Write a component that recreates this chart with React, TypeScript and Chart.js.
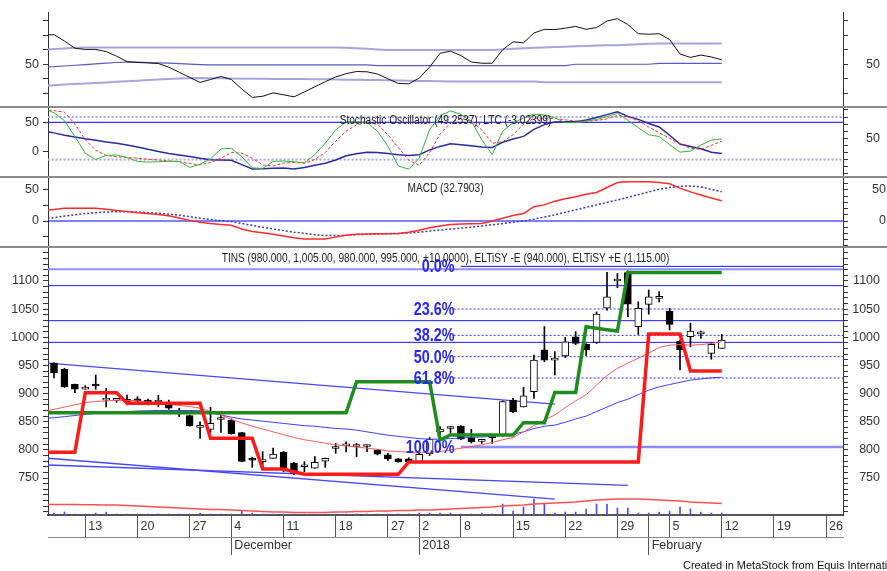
import React, { useEffect, useRef } from "react";
import { Chart, registerables } from "chart.js";

Chart.register(...registerables);

const FONT = "'Liberation Sans Narrow', 'Arial Narrow', 'Liberation Sans', Arial, sans-serif";

// ---------- time axis (bar 0 = first visible trading day, 8 Nov 2017) ----------
const X_MIN = -0.575;
const X_MAX = 75.62;
const LEAD = -1; // indicator series begin one bar before the first visible candle
const weekTickBars = [3, 8, 13, 17, 22, 27, 32, 35, 39, 44, 49, 54, 57, 59, 64, 69, 74];
const weekTickLabels = ["13", "20", "27", "4", "11", "18", "27", "2", "8", "15", "22", "29", "", "5", "12", "19", "26"];
const monthTickBars = [17, 35, 57];
const monthTickLabels = ["December", "2018", "February"];

// ---------- TINS daily candles ----------
const candleOpen = [954, 943, 916.5, 908, 916.5, 888.5, 888, 890, 887.5, 885.5, 885, 884, 870, 861, 840, 836.5, 854, 853, 830.5, 782, 779, 785, 796, 776, 770, 767.5, 780, 802.5, 807, 806, 806, 800, 791, 784, 784, 779, 793, 832, 838, 842, 822, 815, 821.5, 827, 888.5, 876.5, 903.5, 977.5, 959.5, 967, 1001, 987.5, 991, 1051.5, 1100, 1115, 1019, 1058.5, 1069, 1046.5, 993, 1001, 1006, 971.5, 980];
const candleHigh = [955, 945, 917, 914, 933, 909.5, 891, 897.5, 894.5, 890, 897, 888.5, 874, 862, 850, 875.5, 862, 855, 831, 787, 797, 803, 797, 778, 779, 788, 785.5, 811.5, 814.5, 811.5, 809, 801, 794, 785, 786, 795, 822, 841.5, 842, 843, 836.5, 817.5, 826, 887, 891.5, 911, 968.5, 1019, 974.5, 1000, 1010, 989, 1045, 1115.5, 1113.5, 1118, 1063, 1084, 1081, 1051.5, 995, 1025, 1011, 990, 1005];
const candleLow = [928, 911, 901.5, 907.5, 907.5, 876.5, 884.5, 880, 881, 880, 877, 872, 859, 842, 820.5, 831, 831, 828, 779, 769, 768, 785, 761, 756, 761, 767, 769, 794, 796.5, 788, 797, 791, 781, 778, 778, 778, 790, 828, 829, 818, 812, 811.5, 811.5, 824, 866, 876, 891.5, 956.5, 933, 964, 987, 968, 989, 1048, 1088, 1036.5, 1005, 1041, 1063, 1013, 942, 983, 998, 961, 980];
const candleClose = [937, 912, 908, 911, 913.5, 889.5, 888.5, 885.5, 887, 885, 885.5, 874, 864, 842.5, 840.5, 847, 854.5, 828.5, 779.5, 781.5, 782, 792.5, 767.5, 758.5, 770.5, 778, 785, 803, 807.5, 806.5, 806.5, 792.5, 784, 779, 779, 792, 819, 837, 838.5, 819, 814, 815.5, 822, 886, 868, 896, 959.5, 959.5, 960, 992, 989, 977.5, 1041, 1072, 1101, 1059, 1051.5, 1072, 1069.5, 1023, 977.5, 1011, 1006.5, 987.5, 995];
// volume overlay (arbitrary units, drawn in the bottom of the price pane)
const volume = [2, 3, 1, 1, 2, 3, 1, 1, 1, 1, 1, 1, 1, 1, 2, 1, 1, 1, 4, 2, 1, 1, 1, 1, 1, 1, 1, 1, 1, 1, 1, 1, 1, 1, 1, 2, 2, 2, 2, 1, 1, 2, 1, 11, 4, 8, 16, 11, 2, 3, 3, 6, 11, 11, 7, 7, 2, 2, 3, 4, 8, 6, 3, 2, 2];
const VOL_AXIS_MAX = 267;

// ---------- indicator series (first value = bar -1) ----------
const volMA = [10.5, 10.5, 10.5, 10.4, 10.3, 10.2, 10.1, 10, 9.5, 9, 8.5, 8, 7.5, 7, 6.5, 6, 5.5, 5.5, 5, 4.5, 4, 3.5, 3, 3, 2.5, 2.5, 2.5, 2.5, 3, 3, 3.5, 3.5, 4, 4, 4.5, 4.5, 5, 5, 5.5, 6, 6.5, 7, 7.5, 8, 9, 9.5, 10, 11, 11.5, 12, 12.5, 13, 14, 15, 15.5, 16, 16, 16, 15.5, 15, 14.5, 14, 13, 12.5, 12, 11.5];
const maFast = [868, 872, 876, 880, 884, 886, 887, 888, 888, 887, 885, 883, 881, 879, 877, 874, 868, 862, 854, 848, 842, 837, 832, 827, 822, 818, 815, 812, 809, 807, 805, 803, 801, 798, 797, 796, 795.5, 795.5, 797, 800, 803, 806, 809, 813, 818, 822, 832, 843, 853, 862, 875, 887, 898, 915, 932, 945, 954, 963, 972, 982, 986, 987, 986, 987, 989, 992];
const maSlow = [856, 857, 859, 861, 863, 865, 866, 867, 868, 869, 869.5, 870, 870, 870, 870, 869.5, 866, 862, 858, 855, 853, 851, 849, 847, 845, 843, 842, 840, 838, 837, 835, 832, 829, 826, 824, 822, 820, 819, 819, 820, 821, 822, 823, 824, 826, 828, 832, 838, 842, 844, 849, 855, 860, 868, 876, 884, 890, 898, 906, 912, 916, 920, 924, 926, 928, 929];
const eltisyPlusE = [866, 866, 866, 866, 866, 866, 866, 866, 866, 866, 866, 866, 866, 866, 866, 866, 866, 866, 866, 866, 866, 866, 866, 866, 866, 866, 866, 866, 866, 866, 921, 921, 921, 921, 921, 921, 921, 921, 817.5, 826.4, 826.4, 826.4, 826.4, 826.4, 826.4, 826.4, 848.3, 848.3, 848.3, 902, 902, 902, 1018.8, 1016, 1013.5, 1011.2, 1115, 1115, 1115, 1115, 1115, 1115, 1115, 1115, 1115, 1115];
const eltisyMinusE = [795.7, 795.7, 795.7, 795.7, 901.6, 901.6, 901.6, 901.6, 882.7, 882.7, 882.7, 882.7, 882.7, 882.7, 882.7, 882.7, 820.5, 820.5, 820.5, 820.5, 820.5, 766, 766, 766, 761, 756.6, 756.6, 756.6, 756.6, 756.6, 756.6, 756.6, 756.6, 756.6, 756.6, 778.5, 778.5, 778.5, 778.5, 778.5, 778.5, 778.5, 778.5, 778.5, 778.5, 778.5, 778.5, 778.5, 778.5, 778.5, 778.5, 778.5, 778.5, 778.5, 778.5, 778.5, 778.5, 778.5, 1006, 1006, 1006, 1006, 940, 940, 940, 940];

// horizontal levels, fibonacci retracement and trend lines on the price pane
const levelLines = [1121, 1091.7, 1029.5, 991];
const fibLabels = ["0.0%", "23.6%", "38.2%", "50.0%", "61.8%", "100.0%"];
const fibPrices = [1126, 1050.2, 1003.4, 965.5, 927.6, 805];
const fibStartBar = [39, 38.3, 38.3, 38.3, 38.3, 39];
const FIB_LABEL_BAR = 38.4;
const trendFromBar = [-1, -1, -1];
const trendFromVal = [954.7, 785.7, 773.4];
const trendToBar = [48, 48, 55];
const trendToVal = [881.3, 712.5, 737];
const priceLabels = [750, 800, 850, 900, 950, 1000, 1050, 1100];

// top oscillator pane
const topOsc = [70, 70.3, 66, 61, 60.2, 60.2, 58.7, 55.5, 51.8, 51.2, 50.9, 50.5, 48, 44.5, 41, 37.5, 39.5, 41.6, 39.5, 33, 27.2, 28, 30.3, 29, 27.6, 31, 34.5, 38, 41.3, 43.5, 45, 44.8, 43.3, 40, 36.8, 36.5, 40.5, 48, 57.5, 59, 56, 51.5, 50.7, 50.7, 60, 65.4, 64.7, 71.5, 74, 73.8, 74.8, 76, 74, 75.2, 79.7, 81.3, 77.3, 71, 70.6, 71, 67, 57, 54.7, 56.3, 55, 53];
const topUpper = [60, 60.4, 60.9, 61.3, 61.5, 61.5, 61.5, 61.5, 61.5, 61.5, 61.5, 61.5, 61.5, 61.5, 61.5, 61.5, 61.5, 61.5, 61.5, 61.5, 61.5, 61.5, 61.5, 61.5, 61.5, 61.5, 61.5, 61.5, 61.5, 61.3, 61, 60.6, 60.2, 59.8, 59.8, 59.8, 59.8, 59.8, 59.8, 59.8, 59.8, 59.8, 59.8, 59.8, 60.2, 60.6, 61, 61.3, 61.5, 61.8, 62.1, 62.4, 62.6, 62.8, 63, 63.1, 63.4, 63.7, 64, 64.3, 64.3, 64.3, 64.3, 64.3, 64.3, 64.3];
const topMid = [48, 48.3, 48.8, 49.3, 49.8, 50.3, 50.8, 51.2, 51.4, 51.4, 51.2, 51, 50.7, 50.4, 50.1, 49.8, 49.6, 49.5, 49.5, 49.5, 49.5, 49.5, 49.5, 49.5, 49.5, 49.5, 49.5, 49.5, 49.5, 49.5, 49.5, 49.5, 49.1, 49.1, 49.1, 49.1, 49.1, 49.1, 49.1, 49.1, 49.1, 49.1, 49.1, 49.1, 49.1, 49.1, 49.1, 49.1, 49.1, 49.1, 49.1, 50, 50, 50, 50, 50, 50, 50, 50, 50.6, 50.6, 50.6, 50.6, 50.6, 50.6, 50.6];
const topLower = [35.3, 35.6, 36, 36.4, 36.8, 37.1, 37.5, 37.9, 38.3, 38.7, 39.1, 39.5, 39.9, 40.2, 40.4, 40.5, 40.4, 40.3, 40.2, 40.1, 40, 40, 39.9, 39.9, 39.8, 39.8, 39.7, 39.6, 39.5, 39.4, 39.3, 39.2, 39.1, 39, 38.9, 38.7, 38.5, 38.4, 38.3, 38.2, 38.2, 38.2, 38.2, 38.2, 38.2, 38.2, 38.2, 38.2, 37.6, 37.6, 37.6, 37.6, 37.6, 37.6, 37.6, 37.6, 37.6, 37.6, 37.6, 37.6, 37.6, 37.6, 37.6, 37.6, 37.6, 37.6];

// stochastic oscillator / LTC pane
const stochK = [92, 86, 75, 52.5, 29, 20, 26, 26.5, 23, 17.5, 16.5, 17, 17.5, 17.5, 9, 13.5, 21, 35, 35.9, 24, 8.5, 7.5, 17.5, 18, 17, 15.5, 27, 43, 62, 73, 73, 72.5, 60, 39, 11, 6.5, 22, 62, 82, 88.5, 84, 74, 48, 27, 60, 72, 78.5, 84, 83, 79, 72, 72, 74.5, 76.5, 80.5, 85, 75.5, 65, 55, 52.5, 41, 30.5, 32, 40.5, 47.5, 49.25];
const stochD = [90, 89, 87, 70, 48, 33, 26, 24, 23, 22, 20.5, 19.5, 18, 17, 14.5, 12.5, 16, 22, 30, 29, 22, 12.5, 11, 15, 16, 15, 20, 30, 46, 60, 69, 72, 70, 55, 37, 19, 12, 30, 56, 72, 78, 74, 62, 43, 45, 55, 70, 78, 78, 78, 76, 74.5, 74, 75, 77.5, 82, 80.5, 74.5, 66, 58, 50, 42, 36, 34.5, 40, 46];
const ltc = [35, 32, 28, 25, 22, 19.5, 16.5, 14.5, 11.5, 8, 4, 0.5, -3, -5.5, -8, -11, -13.5, -14, -14.5, -22, -29.5, -29, -28, -27.5, -29.5, -27, -23, -19.5, -14, -7, -3.5, -1, -1.5, -3, -5, -6.5, -5, 3, 9, 13.5, 12, 10, 8, 7, 16, 21.5, 26, 38, 46, 50.5, 51, 51, 54, 58, 63, 68, 60, 55, 48, 42, 28, 13, 9, 5, -1, -3.02];
const stochLevels = [80, 20];

// MACD pane
const macd = [17, 18.5, 20.4, 20.4, 20.4, 20.4, 19, 17, 15.5, 13.5, 12, 10.5, 8.5, 5, 1, -2, -4, -5.5, -7, -13, -17, -19, -21.5, -24, -27, -29, -29, -29, -26, -23, -21.5, -21, -20.5, -20.5, -20, -18, -15, -11, -8, -5.5, -5, -4.5, -4, 0, 4.5, 9, 12, 23, 26, 32, 36, 39, 43, 46, 54, 62, 63.4, 63.4, 63.4, 62, 60, 53, 47, 42, 37, 32.79];
const macdSignal = [3, 5.5, 8, 10, 12, 13.5, 14.5, 15, 15, 14.5, 13.5, 12.5, 11, 9.5, 7, 4.5, 2.5, 0.5, -1, -4, -7, -10, -13, -15.5, -18, -20, -22, -23.5, -23.5, -23, -22, -21.5, -21, -20.5, -20, -19.5, -18, -16, -14.5, -13, -11.5, -10, -8, -6, -4, -2, 0, 3, 6.5, 10, 14, 18, 22, 26, 30, 34, 38, 42.5, 47, 51, 54, 56, 56.5, 55, 51, 47.3];

// ---------- helpers ----------
const pts = (arr: number[], start: number) => arr.map((v, i) => ({ x: start + i, y: v }));
const hline = (x0: number, x1: number, v: number) => [{ x: x0, y: v }, { x: x1, y: v }];

function lineDs(data: any[], color: string, width: number, extra: any = {}) {
  return { type: "line", data, borderColor: color, borderWidth: width, pointRadius: 0, tension: 0, fill: false, clip: 0, ...extra };
}

function yAx(position: string, min: number, max: number, tickVals: number[], labelVals: number[], width: number, extra: any = {}) {
  return {
    type: "linear",
    position,
    min,
    max,
    afterBuildTicks: (s: any) => { s.ticks = tickVals.map((v) => ({ value: v })); },
    afterFit: (s: any) => { s.width = width; s.paddingTop = 0; s.paddingBottom = 0; },
    ticks: {
      autoSkip: false,
      callback: (v: number) => (labelVals.indexOf(v) >= 0 ? String(v) : ""),
      font: { family: FONT, size: 12.5 },
      color: "#333",
      padding: 4,
      crossAlign: position === "left" ? "near" : "far",
    },
    grid: { drawOnChartArea: false, drawTicks: true, tickLength: 5, color: "#333" },
    border: { display: true, color: "#333", width: 1 },
    ...extra,
  };
}

const hiddenX = { type: "linear", min: X_MIN, max: X_MAX, display: false, offset: false };

const baseOpts = (padding: any) => ({
  responsive: false,
  animation: false,
  events: [],
  layout: { autoPadding: false, padding },
  plugins: { legend: { display: false }, tooltip: { enabled: false }, title: { display: false } },
});

const range = (a: number, b: number, step: number) => {
  const out: number[] = [];
  for (let v = a; v <= b + 1e-9; v += step) out.push(v);
  return out;
};

const fibLabelPlugin = {
  id: "fibLabels",
  afterDatasetsDraw(chart: any) {
    const { ctx, scales } = chart;
    const xPix = scales.x.getPixelForValue(FIB_LABEL_BAR);
    ctx.save();
    ctx.font = `bold 18px ${FONT}`;
    ctx.fillStyle = "#2626ff";
    ctx.textAlign = "right";
    ctx.textBaseline = "middle";
    fibLabels.forEach((t, i) => {
      ctx.save();
      ctx.translate(xPix, scales.y.getPixelForValue(fibPrices[i]) + 1);
      ctx.scale(0.8, 1);
      ctx.fillText(t, 0, 0);
      ctx.restore();
    });
    ctx.restore();
  },
};

export default function App() {
  const aRef = useRef<HTMLCanvasElement>(null);
  const bRef = useRef<HTMLCanvasElement>(null);
  const cRef = useRef<HTMLCanvasElement>(null);
  const dRef = useRef<HTMLCanvasElement>(null);

  useEffect(() => {
    document.body.style.margin = "0";

    const cfgA: any = {
      type: "line",
      data: {
        datasets: [
          lineDs(pts(topOsc, LEAD), "#111", 1),
          lineDs(pts(topMid, LEAD), "#5a5ac4", 1.2),
          lineDs(pts(topUpper, LEAD), "#a6a6de", 2),
          lineDs(pts(topLower, LEAD), "#a6a6de", 2),
        ],
      },
      options: {
        ...baseOpts({ top: 12, right: 7, left: 0, bottom: 0 }),
        scales: {
          x: hiddenX,
          yL: yAx("left", 21.3, 85.9, [30, 40, 50, 60, 70, 80], [50], 48),
          yR: yAx("right", 21.3, 85.9, [30, 40, 50, 60, 70, 80], [50], 37),
        },
      },
    };
    cfgA.data.datasets.forEach((d: any) => (d.yAxisID = "yL"));

    const cfgB: any = {
      type: "line",
      data: {
        datasets: [
          lineDs(pts(stochK, LEAD), "#33b533", 1, { yAxisID: "yR" }),
          lineDs(pts(stochD, LEAD), "#ff2a2a", 1, { yAxisID: "yR", borderDash: [3, 2] }),
          lineDs(pts(ltc, LEAD), "#2a2aa0", 1.5, { yAxisID: "yL" }),
          lineDs(hline(LEAD, X_MAX, 50), "#0000ff", 1, { yAxisID: "yL" }),
          ...stochLevels.map((v) => lineDs(hline(LEAD, X_MAX, v), "#a8a8ea", 2, { yAxisID: "yR", borderDash: [2, 2] })),
        ],
      },
      options: {
        ...baseOpts({ top: 0, right: 7, left: 0, bottom: 0 }),
        scales: {
          x: hiddenX,
          yL: yAx("left", -41.3, 74.3, [0, 50], [0, 50], 48),
          yR: yAx("right", -3.1, 92.7, range(0, 90, 10), [50], 37),
        },
      },
    };

    const cfgC: any = {
      type: "line",
      data: {
        datasets: [
          lineDs(pts(macd, LEAD), "#ff2a2a", 1.5, { yAxisID: "yL" }),
          lineDs(pts(macdSignal, LEAD), "#3a3ab8", 1.5, { yAxisID: "yL", borderDash: [2, 2] }),
          lineDs(hline(LEAD, X_MAX, 0), "#0000ff", 1.2, { yAxisID: "yL" }),
        ],
      },
      options: {
        ...baseOpts({ top: 0, right: 1, left: 0, bottom: 0 }),
        scales: {
          x: hiddenX,
          yL: yAx("left", -40.3, 69.35, [-25, 0, 25, 50], [0, 50], 48),
          yR: yAx("right", -40.3, 69.35, range(-40, 60, 10), [0, 50], 43),
        },
      },
    };

    const bars = candleOpen.map((_, i) => i);
    const bodyColors = candleOpen.map((o, i) => (candleClose[i] >= o ? "#ffffff" : "#000000"));

    const cfgD: any = {
      type: "bar",
      data: {
        datasets: [
          lineDs(pts(eltisyMinusE, LEAD), "#ff1a1a", 3.5),
          lineDs(pts(eltisyPlusE, LEAD), "#1e8c1e", 3.5),
          lineDs(pts(maFast, LEAD), "#ff5a5a", 1),
          lineDs(pts(maSlow, LEAD), "#3d3dff", 1),
          {
            type: "bar",
            data: bars.map((i) => ({ x: i, y: [candleOpen[i], candleClose[i]] })),
            backgroundColor: bodyColors,
            borderColor: "#000",
            borderWidth: 1,
            borderSkipped: false,
            barThickness: 7,
            minBarLength: 2,
            grouped: false,
            yAxisID: "y",
          },
          {
            type: "bar",
            data: bars.map((i) => ({ x: i, y: [candleLow[i], candleHigh[i]] })),
            backgroundColor: "#000",
            borderWidth: 0,
            barThickness: 1,
            grouped: false,
            yAxisID: "y",
          },
          ...trendFromBar.map((b, i) => lineDs([{ x: b, y: trendFromVal[i] }, { x: trendToBar[i], y: trendToVal[i] }], "#4646ff", 1.4)),
          ...fibPrices.map((p, i) =>
            lineDs(
              hline(fibStartBar[i], X_MAX, p),
              i === 0 ? "#1010ff" : i === 5 ? "#8c8cff" : "#3030ff",
              i === 5 ? 2.5 : 1,
              i === 0 || i === 5 ? {} : { borderDash: [2, 2] }
            )
          ),
          ...levelLines.map((v, i) => lineDs(hline(LEAD, X_MAX, v), i === 0 ? "#9090ff" : "#1a1aff", i === 0 ? 2 : 1)),
          lineDs(pts(volMA, LEAD), "#ff5050", 1.5, { yAxisID: "yVol" }),
          {
            type: "bar",
            data: bars.map((i) => ({ x: i, y: volume[i] })),
            backgroundColor: "#4a4aff",
            borderWidth: 0,
            barThickness: 1,
            grouped: false,
            yAxisID: "yVol",
          },
        ],
      },
      options: {
        ...baseOpts({ top: 0, right: 7, left: 0, bottom: 0 }),
        scales: {
          x: {
            type: "linear",
            min: X_MIN,
            max: X_MAX,
            position: "bottom",
            offset: false,
            weight: 0,
            afterBuildTicks: (s: any) => { s.ticks = weekTickBars.map((v) => ({ value: v })); },
            afterFit: (s: any) => { s.height = 22; s.paddingLeft = 0; s.paddingRight = 0; },
            ticks: {
              autoSkip: false,
              maxRotation: 0,
              minRotation: 0,
              align: "start",
              labelOffset: 3,
              padding: -18,
              callback: (_v: number, i: number) => weekTickLabels[i],
              font: { family: FONT, size: 12.5 },
              color: "#333",
            },
            grid: { drawOnChartArea: false, offset: false, tickLength: 22, color: "#555" },
            border: { display: true, color: "#555", width: 2 },
          },
          x2: {
            type: "linear",
            min: X_MIN,
            max: X_MAX,
            position: "bottom",
            offset: false,
            weight: 1,
            afterBuildTicks: (s: any) => { s.ticks = monthTickBars.map((v) => ({ value: v })); },
            afterFit: (s: any) => { s.height = 34; s.paddingLeft = 0; s.paddingRight = 0; },
            ticks: {
              autoSkip: false,
              maxRotation: 0,
              minRotation: 0,
              align: "start",
              labelOffset: 3,
              padding: -17,
              callback: (_v: number, i: number) => monthTickLabels[i],
              font: { family: FONT, size: 12.5 },
              color: "#333",
            },
            grid: { drawOnChartArea: false, offset: false, tickLength: 18, color: "#555" },
            border: { display: true, color: "#8a8a8a", width: 1 },
          },
          y: yAx("left", 684.3, 1158.6, range(690, 1150, 10), priceLabels, 48),
          yR: yAx("right", 684.3, 1158.6, range(690, 1150, 10), priceLabels, 37),
          yVol: { type: "linear", display: false, min: 0, max: VOL_AXIS_MAX },
        },
      },
      plugins: [fibLabelPlugin],
    };

    const charts = [
      new Chart(aRef.current as HTMLCanvasElement, cfgA),
      new Chart(bRef.current as HTMLCanvasElement, cfgB),
      new Chart(cRef.current as HTMLCanvasElement, cfgC),
      new Chart(dRef.current as HTMLCanvasElement, cfgD),
    ];
    return () => charts.forEach((c) => c.destroy());
  }, []);

  const abs = (top: number, height: number): any => ({ position: "absolute", left: 0, top, width: 887, height, display: "block" });
  const sep = (top: number): any => ({ position: "absolute", left: 0, top, width: 887, height: 2, background: "#8c8c8c" });
  const title = (top: number): any => ({
    position: "absolute", left: 48, top, width: 795, textAlign: "center", fontFamily: FONT, fontSize: 12, lineHeight: "14px",
    color: "#222", whiteSpace: "nowrap", transform: "scaleX(0.845)", transformOrigin: "50% 50%",
  });

  return (
    <div style={{ position: "absolute", left: 0, top: 0, width: 887, height: 571, overflow: "hidden", background: "#fff" }}>
      <canvas ref={aRef} width={887} height={106} style={abs(0, 106)} />
      <div style={sep(106)} />
      <canvas ref={bRef} width={887} height={68} style={abs(108, 68)} />
      <div style={sep(176)} />
      <canvas ref={cRef} width={887} height={68} style={abs(178, 68)} />
      <div style={sep(246)} />
      <canvas ref={dRef} width={887} height={323} style={abs(248, 323)} />
      <div style={title(113)}>Stochastic Oscillator (49.2537), LTC (-3.02399)</div>
      <div style={title(181)}>MACD (32.7903)</div>
      <div style={title(251)}>TINS (980.000, 1,005.00, 980.000, 995.000, +10.0000), ELTiSY -E (940.000), ELTiSY +E (1,115.00)</div>
      <div style={{ position: "absolute", left: 683, top: 559, fontFamily: "'Liberation Sans', Arial, sans-serif", fontSize: 11, lineHeight: "13px", color: "#111", whiteSpace: "nowrap" }}>
        Created in MetaStock from Equis International
      </div>
    </div>
  );
}
